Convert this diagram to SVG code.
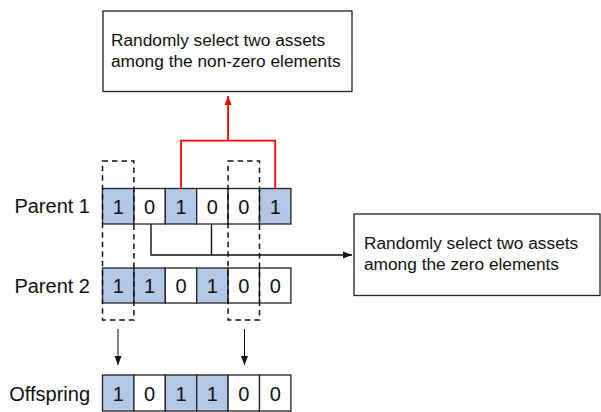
<svg xmlns="http://www.w3.org/2000/svg" width="601" height="412" viewBox="0 0 601 412">
<defs>
<style>
.txt{font-family:"Liberation Sans",Arial,sans-serif;fill:#111}
.lbl{font-size:20px;text-anchor:end}
.dig{font-size:20px;text-anchor:middle}
.box{font-size:17.3px}
.on{fill:#B4C7E7;stroke:#222;stroke-width:1.3}
.off{fill:#fff;stroke:#222;stroke-width:1.3}
.frame{fill:#fff;stroke:#222;stroke-width:1.3}
.dash{fill:none;stroke:#111;stroke-width:1.5;stroke-dasharray:5.5,4}
.red{fill:none;stroke:#f00;stroke-width:1.8}
.blk{fill:none;stroke:#111;stroke-width:1.4}
.thin{fill:none;stroke:#111;stroke-width:1}
</style>
<marker id="ar" markerWidth="10" markerHeight="10" refX="9" refY="5" orient="auto" markerUnits="userSpaceOnUse">
<path d="M0,1.5 L9,5 L0,8.5 Z" fill="#f00"/>
</marker>
<marker id="ab" markerWidth="10" markerHeight="10" refX="9" refY="5" orient="auto" markerUnits="userSpaceOnUse">
<path d="M0,1.5 L9,5 L0,8.5 Z" fill="#111"/>
</marker>
</defs>
<rect width="601" height="412" fill="#fff"/>

<g id="box-nonzero">
<rect class="frame" x="103" y="11" width="249" height="80.5"/>
<text class="txt box" x="111" y="46">Randomly select two assets</text>
<text class="txt box" x="111" y="67">among the non-zero elements</text>
</g>

<g id="box-zero">
<rect class="frame" x="354" y="214" width="246" height="81.5"/>
<text class="txt box" x="364" y="248.5">Randomly select two assets</text>
<text class="txt box" x="364" y="269.5">among the zero elements</text>
</g>

<g id="parent1">
<text class="txt lbl" x="90" y="213">Parent 1</text>
<rect class="on" x="102.5" y="188.5" width="31.4" height="35.5"/>
<rect class="off" x="133.9" y="188.5" width="31.4" height="35.5"/>
<rect class="on" x="165.3" y="188.5" width="31.4" height="35.5"/>
<rect class="off" x="196.7" y="188.5" width="31.4" height="35.5"/>
<rect class="off" x="228.1" y="188.5" width="31.4" height="35.5"/>
<rect class="on" x="259.5" y="188.5" width="31.4" height="35.5"/>
<text class="txt dig" x="118.2" y="213.5">1</text>
<text class="txt dig" x="149.6" y="213.5">0</text>
<text class="txt dig" x="181" y="213.5">1</text>
<text class="txt dig" x="212.4" y="213.5">0</text>
<text class="txt dig" x="243.8" y="213.5">0</text>
<text class="txt dig" x="275.2" y="213.5">1</text>
</g>

<g id="parent2">
<text class="txt lbl" x="90" y="293">Parent 2</text>
<rect class="on" x="102.5" y="268" width="31.4" height="35"/>
<rect class="on" x="133.9" y="268" width="31.4" height="35"/>
<rect class="off" x="165.3" y="268" width="31.4" height="35"/>
<rect class="on" x="196.7" y="268" width="31.4" height="35"/>
<rect class="off" x="228.1" y="268" width="31.4" height="35"/>
<rect class="off" x="259.5" y="268" width="31.4" height="35"/>
<text class="txt dig" x="118.2" y="292.8">1</text>
<text class="txt dig" x="149.6" y="292.8">1</text>
<text class="txt dig" x="181" y="292.8">0</text>
<text class="txt dig" x="212.4" y="292.8">1</text>
<text class="txt dig" x="243.8" y="292.8">0</text>
<text class="txt dig" x="275.2" y="292.8">0</text>
</g>

<g id="offspring">
<text class="txt lbl" x="90" y="400.5">Offspring</text>
<rect class="on" x="102.5" y="375" width="31.4" height="36"/>
<rect class="off" x="133.9" y="375" width="31.4" height="36"/>
<rect class="on" x="165.3" y="375" width="31.4" height="36"/>
<rect class="on" x="196.7" y="375" width="31.4" height="36"/>
<rect class="off" x="228.1" y="375" width="31.4" height="36"/>
<rect class="off" x="259.5" y="375" width="31.4" height="36"/>
<text class="txt dig" x="118.2" y="400.5">1</text>
<text class="txt dig" x="149.6" y="400.5">0</text>
<text class="txt dig" x="181" y="400.5">1</text>
<text class="txt dig" x="212.4" y="400.5">1</text>
<text class="txt dig" x="243.8" y="400.5">0</text>
<text class="txt dig" x="275.2" y="400.5">0</text>
</g>

<g id="selection-left">
<rect class="dash" x="102.5" y="161" width="31.4" height="159"/>
</g>
<g id="selection-right">
<rect class="dash" x="228.1" y="161" width="31.4" height="159"/>
</g>

<g id="connectors">
<path class="red" d="M181,188.5 V140.7 H275.2 V188.5"/>
<path class="red" d="M228.1,140.7 V96" marker-end="url(#ar)"/>
<path class="blk" d="M151,224 V255 H352" marker-end="url(#ab)"/>
<path class="blk" d="M211.5,224 V255"/>
<path class="thin" d="M118,329 V365" marker-end="url(#ab)"/>
<path class="thin" d="M244.5,329 V365" marker-end="url(#ab)"/>
</g>
</svg>
